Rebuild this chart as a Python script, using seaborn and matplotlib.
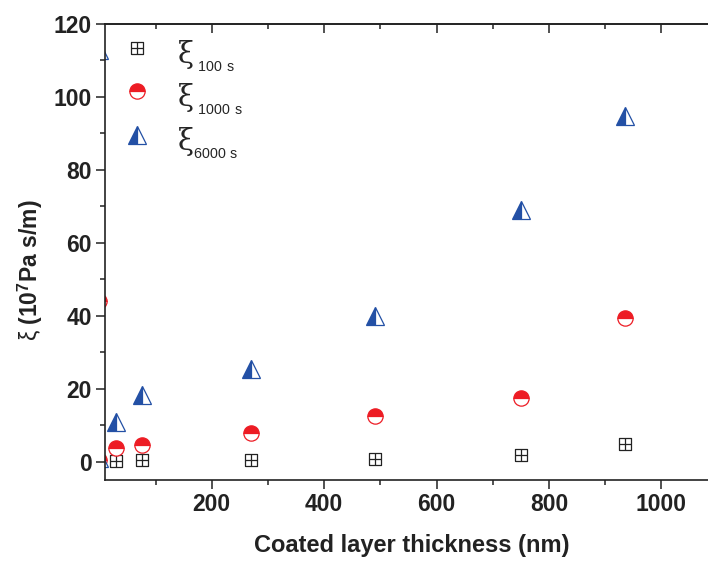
import numpy as np
import pandas as pd
import matplotlib
matplotlib.use("Agg")
import matplotlib.pyplot as plt
from matplotlib.path import Path
from matplotlib.ticker import MultipleLocator
import seaborn as sns

# ---- data ----
thickness = [30, 75, 270, 490, 750, 935]
xi_100 = [0.3, 0.4, 0.5, 0.7, 1.8, 5.0]
xi_1000 = [3.7, 4.6, 7.8, 12.5, 17.5, 39.4]
xi_6000 = [11.0, 18.3, 25.4, 40.0, 69.0, 94.8]
# points sitting on x = 0 (mostly hidden behind the left spine)
edge_thickness = [0, 0]
edge_xi_1000 = [44.0, 0.5]
edge_xi_6000 = [113.0, 1.0]

labels = [r"$\mathit{\xi}_{_{\mathsf{\ 100\ s}}}$",
          r"$\mathit{\xi}_{_{\mathsf{\ 1000\ s}}}$",
          r"$\mathit{\xi}_{_{\mathsf{6000\ s}}}$"]
x_label = "Coated layer thickness (nm)"
y_label = r"$\mathsf{\xi}$ (10$^{\mathbf{7}}$Pa s/m)"

RED = "#ED1C24"
BLUE = "#2350A5"

sns.set_theme(style="ticks")
plt.rcParams["font.family"] = ["Liberation Sans", "DejaVu Sans"]
plt.rcParams["mathtext.fontset"] = "custom"
plt.rcParams["mathtext.rm"] = "DejaVu Serif"
plt.rcParams["mathtext.sf"] = "Liberation Sans"
plt.rcParams["mathtext.bf"] = "Liberation Sans:bold"
plt.rcParams["mathtext.it"] = "DejaVu Serif"

fig = plt.figure(figsize=(7.08, 5.63), dpi=100)
ax = fig.add_axes([105 / 708, 83 / 563, 612.5 / 708, 456 / 563])

# square with a cross inside
sq_verts = [(-1, -1), (1, -1), (1, 1), (-1, 1), (-1, -1),
            (0, -1), (0, 1), (-1, 0), (1, 0)]
sq_codes = [Path.MOVETO, Path.LINETO, Path.LINETO, Path.LINETO, Path.LINETO,
            Path.MOVETO, Path.LINETO, Path.MOVETO, Path.LINETO]
sq_marker = Path(sq_verts, sq_codes)

common = dict(estimator=None, sort=False, linestyle="", ax=ax)

sns.lineplot(x=thickness, y=xi_100, marker=sq_marker, markersize=9.3,
             markerfacecolor="none", markeredgecolor="#222222",
             markeredgewidth=0.9, color="#222222", **common)
h100 = ax.lines[-1]

sns.lineplot(x=thickness, y=xi_1000, marker="o", markersize=11,
             fillstyle="top", markerfacecolor=RED, markerfacecoloralt="white",
             markeredgecolor=RED, markeredgewidth=0.9, color=RED, **common)
h1000 = ax.lines[-1]

sns.lineplot(x=thickness, y=xi_6000, marker="^", markersize=12.5,
             fillstyle="left", markerfacecolor=BLUE, markerfacecoloralt="white",
             markeredgecolor=BLUE, markeredgewidth=0.9, color=BLUE, **common)
h6000 = ax.lines[-1]

sns.lineplot(x=edge_thickness, y=edge_xi_1000, marker="o", markersize=11,
             fillstyle="top", markerfacecolor=RED, markerfacecoloralt="white",
             markeredgecolor=RED, markeredgewidth=0.9, color=RED, **common)
sns.lineplot(x=edge_thickness, y=edge_xi_6000, marker="^", markersize=12.5,
             fillstyle="left", markerfacecolor=BLUE, markerfacecoloralt="white",
             markeredgecolor=BLUE, markeredgewidth=0.9, color=BLUE, **common)

ax.set_xlim(10, 1100)
ax.set_ylim(-5, 120)
ax.xaxis.set_major_locator(MultipleLocator(200))
ax.xaxis.set_minor_locator(MultipleLocator(100))
ax.yaxis.set_major_locator(MultipleLocator(20))
ax.yaxis.set_minor_locator(MultipleLocator(10))

for s in ["left", "bottom", "top"]:
    ax.spines[s].set_linewidth(1.2)
    ax.spines[s].set_color("#222222")
ax.spines["right"].set_visible(False)

ax.tick_params(axis="both", which="major", direction="out", length=6.5,
               width=1.1, color="#222222", labelsize=16.5, pad=3)
ax.tick_params(axis="both", which="minor", direction="out", length=3.5,
               width=1.1, color="#222222")
for lab in ax.get_xticklabels() + ax.get_yticklabels():
    lab.set_fontweight("bold")
    lab.set_color("#222222")

top = ax.secondary_xaxis("top")
top.xaxis.set_major_locator(MultipleLocator(200))
top.xaxis.set_minor_locator(MultipleLocator(100))
top.tick_params(axis="x", which="major", direction="in", length=6.5, width=1.1,
                color="#222222", labeltop=False)
top.tick_params(axis="x", which="minor", direction="in", length=3.5, width=1.1,
                color="#222222")
top.spines["top"].set_linewidth(1.2)
top.spines["top"].set_color("#222222")

ax.set_xlabel(x_label, fontsize=17, fontweight="bold", color="#222222", labelpad=13)
ax.set_ylabel(y_label, fontsize=16.5, fontweight="bold", color="#222222")
ax.yaxis.set_label_coords(-0.098, 0.46)

leg = ax.legend([h100, h1000, h6000], labels, loc="upper left",
                bbox_to_anchor=(0.0345, 0.968), borderaxespad=0, borderpad=0,
                frameon=False, fontsize=21, handlelength=0.75,
                handletextpad=1.0, labelspacing=0.29)
# raise the legend markers a little relative to their labels
for hl in leg.legend_handles:
    hl.set_ydata(np.asarray(hl.get_ydata(), dtype=float) + 4.0)

fig.savefig("out.png", dpi=100)
